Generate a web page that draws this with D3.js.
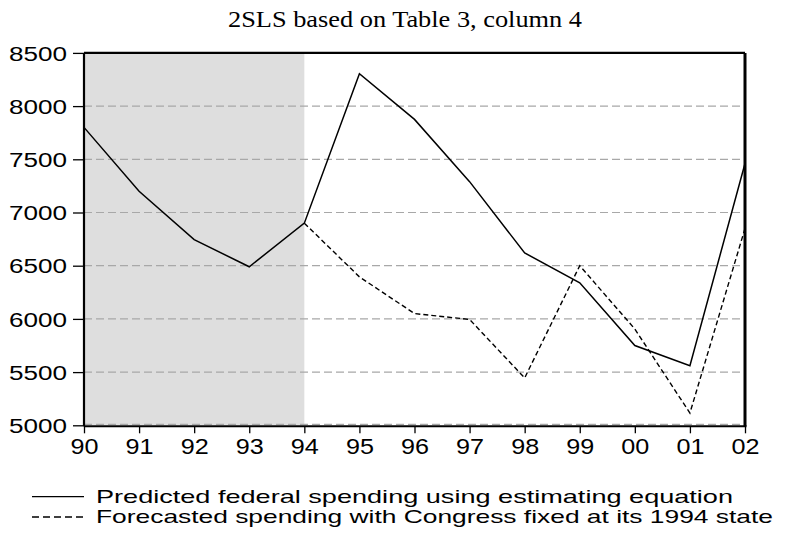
<!DOCTYPE html>
<html>
<head>
<meta charset="utf-8">
<script src="https://cdn.jsdelivr.net/npm/d3@7"></script>
<style>
  html, body { margin: 0; padding: 0; background: #fff; }
  svg { display: block; }
</style>
</head>
<body>
<div id="chart"></div>
<script>
// Years shown on the x axis
const years = ["90", "91", "92", "93", "94", "95", "96", "97", "98", "99", "00", "01", "02"];
// Predicted federal spending using the estimating equation
const predicted = [7800, 7200, 6745, 6490, 6900, 8305, 7875, 7290, 6620, 6340, 5750, 5560, 7460];
// Forecast with Congress fixed at its 1994 state (starts in 94)
const forecast = [null, null, null, null, 6900, 6395, 6050, 5995, 5445, 6500, 5905, 5115, 6850];
// Value axis ticks
const yTicks = [5000, 5500, 6000, 6500, 7000, 7500, 8000, 8500];
// Shaded period (index range on the year axis)
const shadeFrom = 0, shadeTo = 4;

const W = 804, H = 534;
const plotL = 84, plotR = 745, plotT = 52.9, plotB = 425.3;

const svg = d3.select("#chart").append("svg")
  .attr("width", W).attr("height", H);

const x = d3.scaleLinear().domain([0, years.length - 1]).range([plotL, plotR]);
const y = d3.scaleLinear().domain([5000, 8500]).range([plotB, plotT]);

// Title
svg.append("text")
  .attr("x", 405).attr("y", 27)
  .attr("text-anchor", "middle")
  .attr("font-family", "'Liberation Serif', 'Times New Roman', serif")
  .attr("font-size", 23)
  .attr("textLength", 354).attr("lengthAdjust", "spacingAndGlyphs")
  .text("2SLS based on Table 3, column 4");

// Shaded period
svg.append("rect")
  .attr("x", x(shadeFrom)).attr("y", plotT)
  .attr("width", x(shadeTo) - x(shadeFrom)).attr("height", plotB - plotT)
  .attr("fill", "#dedede");

// Horizontal dashed grid
svg.append("g").selectAll("line").data(yTicks).join("line")
  .attr("x1", plotL).attr("x2", plotR)
  .attr("y1", d => y(d) - (d === 5000 ? 1 : 0)).attr("y2", d => y(d) - (d === 5000 ? 1 : 0))
  .attr("stroke", "#a8a8a8").attr("stroke-width", 1.2)
  .attr("stroke-dasharray", "8,4");

// Y axis
const yAxis = d3.axisLeft(y).tickValues(yTicks).tickSize(11).tickPadding(6)
  .tickFormat(d3.format("d"));
const gy = svg.append("g").attr("transform", `translate(${plotL},0)`).call(yAxis);
gy.select(".domain").remove();
gy.selectAll(".tick line").attr("stroke", "#000").attr("stroke-width", 1.3);
gy.selectAll(".tick text")
  .attr("font-family", "'Liberation Sans', Arial, sans-serif")
  .attr("font-size", 20).attr("fill", "#000")
  .attr("dy", "0.36em")
  .attr("textLength", 58).attr("lengthAdjust", "spacingAndGlyphs");

// X axis
const xAxis = d3.axisBottom(x).tickValues(d3.range(years.length)).tickSize(7).tickPadding(3)
  .tickFormat(i => years[i]);
const gx = svg.append("g").attr("transform", `translate(0,${plotB + 1})`).call(xAxis);
gx.select(".domain").remove();
gx.selectAll(".tick line").attr("stroke", "#000").attr("stroke-width", 1.3);
gx.selectAll(".tick text")
  .attr("font-family", "'Liberation Sans', Arial, sans-serif")
  .attr("font-size", 22).attr("fill", "#000")
  .attr("dy", "0.8em")
  .attr("textLength", 28).attr("lengthAdjust", "spacingAndGlyphs");

// Series lines
const line = d3.line()
  .defined(d => d != null)
  .x((d, i) => x(i))
  .y(d => y(d));

svg.append("path").datum(forecast)
  .attr("d", line)
  .attr("fill", "none").attr("stroke", "#000").attr("stroke-width", 1.4)
  .attr("stroke-dasharray", "5,3");

svg.append("path").datum(predicted)
  .attr("d", line)
  .attr("fill", "none").attr("stroke", "#000").attr("stroke-width", 1.5)
  .attr("stroke-linejoin", "miter");

// Plot frame
svg.append("line").attr("x1", plotL).attr("x2", plotR).attr("y1", plotT).attr("y2", plotT)
  .attr("stroke", "#000").attr("stroke-width", 2.2);
svg.append("line").attr("x1", plotL).attr("x2", plotL).attr("y1", plotT).attr("y2", plotB + 1)
  .attr("stroke", "#000").attr("stroke-width", 2.2);
svg.append("line").attr("x1", plotR).attr("x2", plotR).attr("y1", plotT).attr("y2", plotB + 1)
  .attr("stroke", "#000").attr("stroke-width", 3);
svg.append("line").attr("x1", plotL).attr("x2", plotR + 1.5).attr("y1", plotB + 1).attr("y2", plotB + 1)
  .attr("stroke", "#000").attr("stroke-width", 2);

// Legend
const legendItems = [
  { label: "Predicted federal spending using estimating equation", dash: null, y: 496.7, len: 637 },
  { label: "Forecasted spending with Congress fixed at its 1994 state", dash: "7,4", y: 517, len: 677 }
];
const lg = svg.append("g");
legendItems.forEach(it => {
  lg.append("line")
    .attr("x1", 32).attr("x2", 84).attr("y1", it.y).attr("y2", it.y)
    .attr("stroke", "#000").attr("stroke-width", 1.3)
    .attr("stroke-dasharray", it.dash);
  lg.append("text")
    .attr("x", 96).attr("y", it.y + 6)
    .attr("font-family", "'Liberation Sans', Arial, sans-serif")
    .attr("font-size", 19).attr("fill", "#000")
    .attr("textLength", it.len).attr("lengthAdjust", "spacingAndGlyphs")
    .text(it.label);
});
</script>
</body>
</html>
